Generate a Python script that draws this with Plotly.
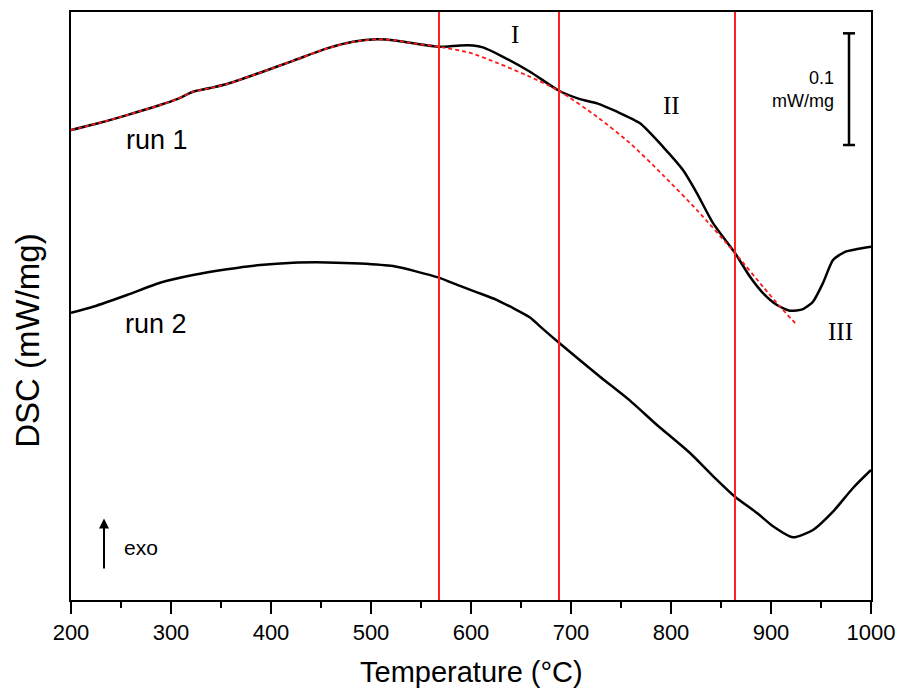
import plotly.graph_objects as go

# DSC traces (relative heat flow, mW/mg) versus temperature (°C)
run1_T = [200, 229, 256, 289, 306, 322, 339, 356, 389, 422, 456, 482, 506, 522, 539, 568,
          589, 602, 612, 632, 659, 688, 709, 726, 746, 769, 792, 812, 826, 842, 864, 879,
          892, 906, 919, 932, 942, 952, 962, 974, 986, 1000]
run1_dsc = [0.4208, 0.4273, 0.4342, 0.4432, 0.4485, 0.4551, 0.4584, 0.4620, 0.4721, 0.4828,
            0.4939, 0.4998, 0.5020, 0.5013, 0.4989, 0.4953, 0.4966, 0.4966, 0.4948, 0.4864,
            0.4730, 0.4560, 0.4485, 0.4447, 0.4372, 0.4268, 0.4058, 0.3850, 0.3641, 0.3375,
            0.3107, 0.2894, 0.2748, 0.2641, 0.2590, 0.2605, 0.2671, 0.2838, 0.3044, 0.3118,
            0.3142, 0.3163]

# fitted baseline under run 1
base_T = [200, 229, 256, 289, 306, 322, 339, 356, 389, 422, 456, 482, 506, 522, 539, 568,
          599, 626, 659, 688, 726, 759, 792, 826, 864, 892, 909, 926]
base_dsc = [0.4208, 0.4273, 0.4342, 0.4432, 0.4485, 0.4551, 0.4584, 0.4620, 0.4721, 0.4828,
            0.4939, 0.4998, 0.5020, 0.5013, 0.4989, 0.4953, 0.4900, 0.4810, 0.4685, 0.4560,
            0.4327, 0.4091, 0.3805, 0.3491, 0.3107, 0.2805, 0.2626, 0.2462]

run2_T = [200, 222, 256, 289, 322, 356, 389, 422, 456, 489, 522, 567, 589, 606, 626, 659,
          669, 688, 729, 759, 786, 819, 842, 864, 886, 902, 922, 942, 962, 982, 1000]
run2_dsc = [0.2572, 0.2626, 0.2731, 0.2841, 0.2910, 0.2961, 0.2999, 0.3020, 0.3023, 0.3014,
            0.2990, 0.2889, 0.2812, 0.2755, 0.2686, 0.2530, 0.2450, 0.2303, 0.1999, 0.1785,
            0.1567, 0.1316, 0.1110, 0.0925, 0.0779, 0.0660, 0.0561, 0.0627, 0.0791, 0.1003,
            0.1164]

# stage boundaries (°C) and stage labels
boundaries = [568, 688, 864]
stage_labels = ["I", "II", "III"]
stage_T = [644, 800, 969]
stage_dsc = [0.5063, 0.4429, 0.2406]

# scale bar
scale_value = 0.1
scale_top = 0.5074
scale_T = 978

x_ticks = [200, 300, 400, 500, 600, 700, 800, 900, 1000]

SANS = "Liberation Sans, Arial, sans-serif"
SERIF = "Liberation Serif, Times New Roman, serif"

fig = go.Figure()

fig.add_trace(go.Scatter(x=run1_T, y=run1_dsc, mode="lines",
                         line=dict(color="black", width=2.5, shape="spline", smoothing=0.6),
                         showlegend=False, hoverinfo="skip"))
fig.add_trace(go.Scatter(x=run2_T, y=run2_dsc, mode="lines",
                         line=dict(color="black", width=2.5, shape="spline", smoothing=0.6),
                         showlegend=False, hoverinfo="skip"))
fig.add_trace(go.Scatter(x=base_T, y=base_dsc, mode="lines",
                         line=dict(color="#ff1a1a", width=1.8, dash="4px,3px",
                                   shape="spline", smoothing=0.6),
                         showlegend=False, hoverinfo="skip"))

shapes = []
for b in boundaries:
    shapes.append(dict(type="line", xref="x", yref="paper", x0=b, x1=b, y0=0, y1=1,
                       line=dict(color="#ff2020", width=2)))

# scale bar with end caps
shapes.append(dict(type="line", xref="x", yref="y", x0=scale_T, x1=scale_T,
                   y0=scale_top, y1=scale_top - scale_value, line=dict(color="black", width=2.5)))
for yy in (scale_top, scale_top - scale_value):
    shapes.append(dict(type="line", xref="x", yref="y", x0=scale_T - 6, x1=scale_T + 6,
                       y0=yy, y1=yy, line=dict(color="black", width=2.5)))

annotations = []
for lab, tx, ty in zip(stage_labels, stage_T, stage_dsc):
    annotations.append(dict(x=tx, y=ty, xref="x", yref="y", text=lab, showarrow=False,
                            font=dict(family=SERIF, size=25, color="black")))

annotations += [
    dict(x=286, y=0.4123, xref="x", yref="y", text="run 1", showarrow=False,
         font=dict(family=SANS, size=27, color="black")),
    dict(x=285, y=0.2471, xref="x", yref="y", text="run 2", showarrow=False,
         font=dict(family=SANS, size=27, color="black")),
    dict(x=965, y=0.4567, xref="x", yref="y", text="0.1<br>mW/mg", showarrow=False,
         xanchor="right", align="right",
         font=dict(family=SANS, size=18, color="black")),
    # exo direction arrow
    dict(x=233, y=0.0730, ax=233, ay=0.0269, xref="x", yref="y", axref="x", ayref="y",
         text="", showarrow=True, arrowhead=2, arrowsize=1, arrowwidth=2, arrowcolor="black"),
    dict(x=251, y=0.0466, xref="x", yref="y", text="exo", showarrow=False, xanchor="left",
         font=dict(family=SANS, size=21, color="black")),
    # axis titles
    dict(x=0.5, y=-0.1224, xref="paper", yref="paper", text="Temperature (°C)",
         showarrow=False, yanchor="middle",
         font=dict(family=SANS, size=29, color="black")),
    dict(x=-0.054, y=0.4405, xref="paper", yref="paper", text="DSC (mW/mg)",
         showarrow=False, textangle=-90, xanchor="center", yanchor="middle",
         font=dict(family=SANS, size=33, color="black")),
]

fig.update_layout(
    width=898, height=688,
    margin=dict(l=71, r=27, t=12, b=88, autoexpand=False),
    paper_bgcolor="white", plot_bgcolor="white",
    shapes=shapes, annotations=annotations,
    xaxis=dict(range=[200, 1000], tickvals=x_ticks, ticks="outside", ticklen=12,
               tickwidth=2, tickcolor="black", showline=True, linewidth=2, linecolor="black",
               mirror=True, showgrid=False, zeroline=False, automargin=False,
               tickfont=dict(family=SANS, size=22, color="black"),
               minor=dict(dtick=50, tick0=200, ticks="outside", ticklen=6, tickwidth=2,
                          tickcolor="black", showgrid=False)),
    yaxis=dict(range=[0, 0.5265], showticklabels=False, ticks="", showline=True,
               linewidth=2, linecolor="black", mirror=True, showgrid=False, zeroline=False,
               automargin=False),
)

fig.write_html("out.html")
